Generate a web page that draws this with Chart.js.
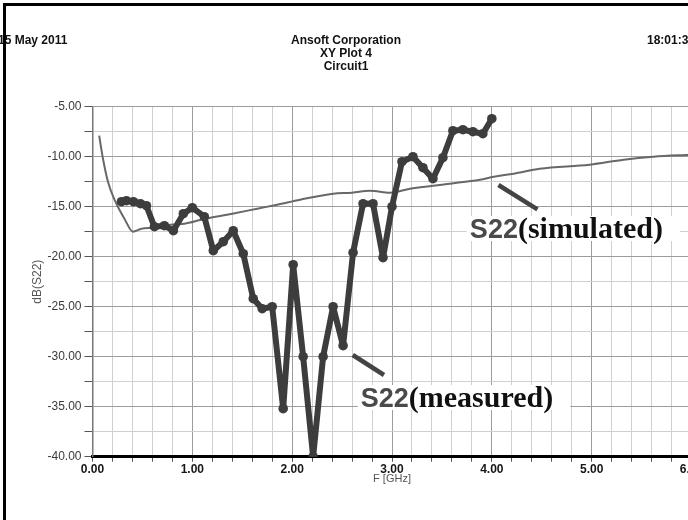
<!DOCTYPE html>
<html>
<head>
<meta charset="utf-8">
<script src="https://cdn.jsdelivr.net/npm/chart.js@4/dist/chart.umd.min.js"></script>
<style>
  html, body { margin:0; padding:0; background:#fff; overflow:hidden; width:688px; height:520px; }
  #wrap { position:relative; width:688px; height:520px; overflow:hidden; }
  canvas { position:absolute; left:0; top:0; }
  .hdr { position:absolute; font-family:"Liberation Sans Narrow","Liberation Sans",Arial,sans-serif; font-weight:bold; font-size:12px; color:#111; white-space:nowrap; line-height:13px; }
  #frame { position:absolute; left:3px; top:3px; width:800px; height:600px; border-top:3px solid #000; border-left:3px solid #000; }
</style>
</head>
<body>
<div id="wrap">
  <canvas id="c" width="700" height="520"></canvas>
  <div class="hdr" style="left:-2px; top:34px;">15 May 2011</div>
  <div class="hdr" style="left:246px; width:200px; text-align:center; top:34px;">Ansoft Corporation</div>
  <div class="hdr" style="left:246px; width:200px; text-align:center; top:47px;">XY Plot 4</div>
  <div class="hdr" style="left:246px; width:200px; text-align:center; top:60px;">Circuit1</div>
  <div class="hdr" style="left:647px; top:34px;">18:01:30</div>
  <div id="frame"></div>
</div>
<script>
// ---- data ----
const measuredF = [0.29,0.34,0.41,0.48,0.54,0.62,0.72,0.81,0.91,1.00,1.12,1.21,1.31,1.41,1.51,1.61,1.70,1.80,1.91,2.01,2.11,2.21,2.31,2.41,2.51,2.61,2.71,2.81,2.91,3.00,3.10,3.21,3.31,3.41,3.51,3.61,3.71,3.81,3.91,4.00];
const measuredDB = [-14.5,-14.4,-14.5,-14.7,-14.9,-17.0,-16.9,-17.4,-15.7,-15.1,-16.0,-19.4,-18.5,-17.4,-19.7,-24.2,-25.2,-25.0,-35.2,-20.8,-30.0,-40.0,-30.0,-25.0,-28.9,-19.6,-14.7,-14.7,-20.1,-15.0,-10.5,-10.0,-11.1,-12.2,-10.1,-7.4,-7.3,-7.5,-7.7,-6.2];

const simulatedF = [0.067,0.105,0.155,0.22,0.32,0.405,0.49,0.62,0.78,0.92,1.09,1.18,1.40,1.65,1.85,2.08,2.41,2.60,2.78,2.98,3.18,3.58,3.88,4.02,4.22,4.48,4.98,5.32,5.62,6.00];
const simulatedDB = [-7.9,-10.2,-12.5,-14.3,-16.2,-17.5,-17.2,-17.1,-16.8,-16.7,-16.3,-16.1,-15.7,-15.2,-14.8,-14.3,-13.7,-13.6,-13.4,-13.6,-13.2,-12.7,-12.3,-12.0,-11.7,-11.2,-10.8,-10.3,-10.0,-9.8];

const xTickValues = [0,1,2,3,4,5,6];
const xTickLabels = ['0.00','1.00','2.00','3.00','4.00','5.00','6.00'];
const yTickValues = [-5,-10,-15,-20,-25,-30,-35,-40];
const yTickLabels = ['-5.00','-10.00','-15.00','-20.00','-25.00','-30.00','-35.00','-40.00'];

const xTitle = 'F [GHz]';
const yTitle = 'dB(S22)';

// annotation leader lines (data coords) and labels
const measLeaderF = [2.607, 2.92];
const measLeaderDB = [-29.83, -31.83];
const simLeaderF = [4.066, 4.457];
const simLeaderDB = [-12.83, -15.26];
const labels = [
  { f: 2.687, db: -35.03, a: 'S22', b: '(measured)' },
  { f: 3.78,  db: -18.13, a: 'S22', b: '(simulated)' }
];

const pts = (xs, ys) => xs.map((x, i) => ({ x: x, y: ys[i] }));
const near = (v, arr) => arr.findIndex(t => Math.abs(t - v) < 1e-6);

const labelPlugin = {
  id: 'labelPlugin',
  afterDatasetsDraw(chart) {
    const ctx = chart.ctx, xs = chart.scales.x, ys = chart.scales.y;
    ctx.save();
    labels.forEach(l => {
      const px = xs.getPixelForValue(l.f), py = ys.getPixelForValue(l.db);
      ctx.font = 'bold 27px "Liberation Sans", Arial, sans-serif';
      const wa = ctx.measureText(l.a).width;
      ctx.font = 'bold 30px "Liberation Serif", "Times New Roman", serif';
      const wb = ctx.measureText(l.b).width;
      ctx.fillStyle = '#ffffff';
      ctx.fillRect(px - 3, py - 22, wa + wb + 20, 25);
      ctx.textBaseline = 'alphabetic';
      ctx.textAlign = 'left';
      ctx.font = 'bold 27px "Liberation Sans", Arial, sans-serif';
      ctx.fillStyle = '#4a4a4a';
      ctx.fillText(l.a, px, py);
      ctx.font = 'bold 30px "Liberation Serif", "Times New Roman", serif';
      ctx.fillStyle = '#111111';
      ctx.fillText(l.b, px + wa, py);
    });
    ctx.restore();
  }
};

const chart = new Chart(document.getElementById('c'), {
  type: 'scatter',
  data: {
    datasets: [
      { label: 'S22 (measured)', data: pts(measuredF, measuredDB), showLine: true,
        borderColor: '#3d3d3d', backgroundColor: '#3d3d3d', borderWidth: 6,
        pointRadius: 4.8, pointBorderWidth: 0, borderJoinStyle: 'round', order: 0 },
      { label: 'S22 (simulated)', data: pts(simulatedF, simulatedDB), showLine: true,
        borderColor: '#686868', backgroundColor: '#686868', borderWidth: 2,
        pointRadius: 0, cubicInterpolationMode: 'monotone', order: 2 },
      { label: 'lead1', data: pts(measLeaderF, measLeaderDB), showLine: true,
        borderColor: '#444', borderWidth: 4.5, pointRadius: 0, order: 1 },
      { label: 'lead2', data: pts(simLeaderF, simLeaderDB), showLine: true,
        borderColor: '#444', borderWidth: 4.5, pointRadius: 0, order: 1 }
    ]
  },
  options: {
    responsive: false,
    animation: false,
    devicePixelRatio: 1,
    layout: { padding: { top: 106.7, right: 8.5, bottom: 34.4, left: 0 } },
    plugins: { legend: { display: false }, tooltip: { enabled: false } },
    scales: {
      x: {
        type: 'linear', min: 0, max: 6,
        afterFit: s => { s.height = 28.9; s.paddingLeft = 0; s.paddingRight = 0; },
        ticks: {
          stepSize: 0.2, autoSkip: false, maxRotation: 0, padding: 1,
          font: { family: '"Liberation Sans Narrow","Liberation Sans",Arial,sans-serif', size: 12, weight: 'bold' },
          color: '#151515',
          callback: v => { const i = near(v, xTickValues); return i >= 0 ? xTickLabels[i] : ''; }
        },
        grid: {
          color: c => (c.tick && near(c.tick.value, xTickValues) >= 0) ? '#9c9c9c' : '#d0d0d0',
          lineWidth: 1, tickLength: 5, tickColor: '#555', drawTicks: true
        },
        border: { color: '#000', width: 3 },
        title: {
          display: true, text: xTitle, padding: { top: 0, bottom: 0 },
          font: { family: '"Liberation Sans Narrow","Liberation Sans",Arial,sans-serif', size: 11 },
          color: '#555'
        }
      },
      y: {
        type: 'linear', min: -40, max: -5,
        afterFit: s => { s.width = 92.5; s.paddingTop = 0; s.paddingBottom = 0; },
        ticks: {
          stepSize: 2.5, autoSkip: false, padding: 3,
          font: { family: '"Liberation Sans Narrow","Liberation Sans",Arial,sans-serif', size: 12 },
          color: '#3a3a3a',
          callback: v => { const i = near(v, yTickValues); return i >= 0 ? yTickLabels[i] : ''; }
        },
        grid: {
          color: c => (c.tick && near(c.tick.value, yTickValues) >= 0) ? '#9c9c9c' : '#d0d0d0',
          lineWidth: 1, tickLength: 8, tickColor: '#555', drawTicks: true
        },
        border: { color: '#777', width: 1.5 },
        title: {
          display: true, text: yTitle, padding: { top: 30, bottom: 0 },
          font: { family: '"Liberation Sans","Liberation Sans Narrow",Arial,sans-serif', size: 12 },
          color: '#555'
        }
      }
    }
  },
  plugins: [labelPlugin]
});
</script>
</body>
</html>
